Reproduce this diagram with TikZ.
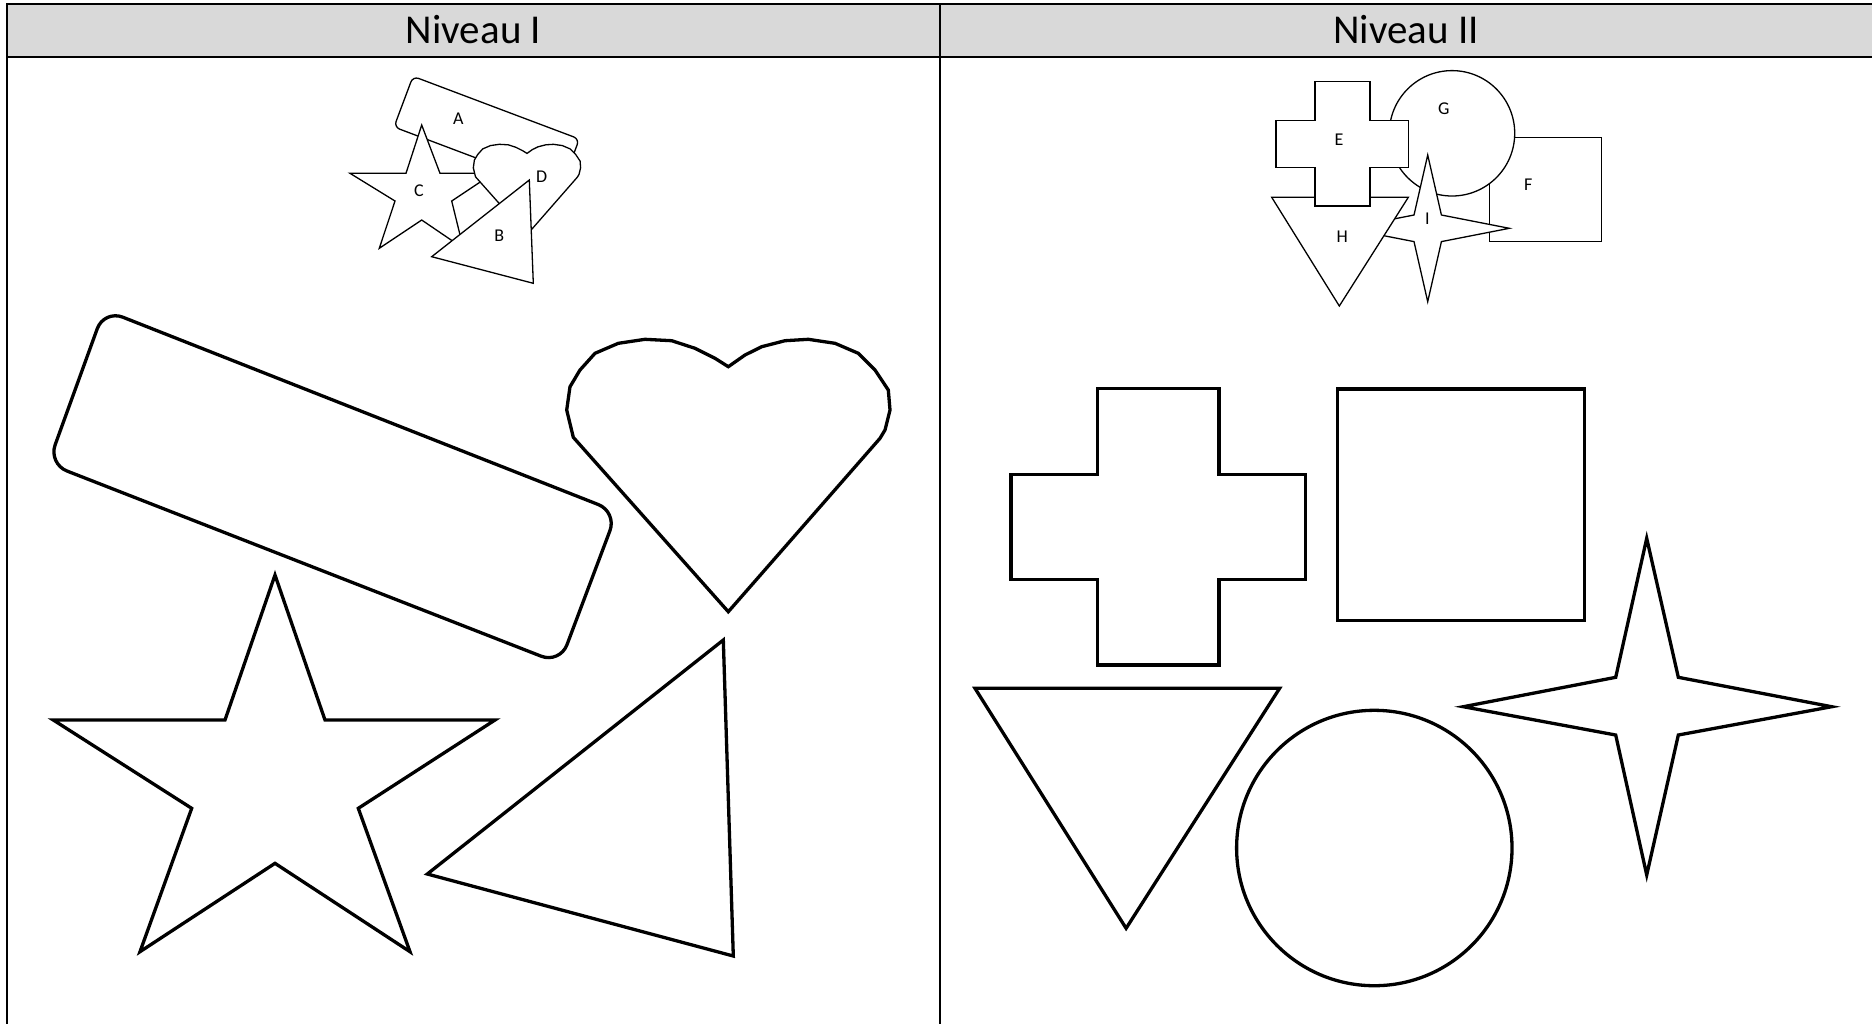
\documentclass[tikz,border=0pt]{standalone}
\usepackage{fontspec}
\setmainfont{Carlito}
\definecolor{headgray}{HTML}{D9D9D9}
\begin{document}
\begin{tikzpicture}[x=0.5pt,y=-0.5pt,
  bigshape/.style={draw=black, line width=1.65pt, line join=miter, fill=white},
  smallshape/.style={draw=black, line width=0.65pt, line join=miter, fill=white},
  lbl/.style={font=\fontsize{9}{10}\selectfont, inner sep=0pt},
  head/.style={font=\fontsize{20.5}{24}\selectfont, inner sep=0pt}]
\useasboundingbox (0,0) rectangle (1872,1024);
\fill[white] (0,0) rectangle (1872,1024);
% table
\fill[headgray] (7,4) rectangle (1872,56.7);
\draw[line width=1.3pt] (6,4) -- (1872,4);
\draw[line width=1pt] (7,56.7) -- (1872,56.7);
\draw[line width=0.8pt] (7,4) -- (7,1024);
\draw[line width=0.8pt] (940,4) -- (940,1024);
\node[head] (h1) at (473.5,30) {Niveau I};
\node[head] (h2) at (1406,30) {Niveau II};

% ---------- Niveau I : small cluster ----------
% A
\draw[smallshape, rounded corners=3pt] (496.2,107.7) -- (579.3,139) -- (560.3,189.7) -- (394,127) -- (413,76.3) -- cycle;
% C
\draw[smallshape] (421.7,125) -- (440,173.3) -- (493.3,173.3) -- (451.7,201) -- (463.3,248.3) -- (421.7,220) -- (379.3,248.3) -- (395,201) -- (350,173.3) -- (406,173.3) -- cycle;
% D
\draw[smallshape] (527.0,234.7) -- (475.5,176.8) -- (473.3,167.8) -- (474.4,160.0) -- (477.7,154.5) -- (482.7,148.9) -- (490.4,145.6) -- (499.3,144.3) -- (508.2,144.8) -- (515.9,147.3) -- (522.5,150.6) -- (527.0,153.4) -- (532.5,149.5) -- (538.0,146.8) -- (545.8,144.8) -- (553.5,144.3) -- (562.4,145.6) -- (570.1,148.9) -- (575.7,154.5) -- (580.1,161.1) -- (580.6,167.8) -- (579.0,174.4) -- (577.3,177.2) -- cycle;
% B
\draw[smallshape] (529.3,180) -- (533.3,283.3) -- (431.7,256.7) -- cycle;
\node[lbl] (la) at (458.3,118.3) {A};
\node[lbl] (lc) at (419,191) {C};
\node[lbl] (ld) at (541.7,176.7) {D};
\node[lbl] (lb) at (499.3,235.7) {B};

% ---------- Niveau I : big shapes ----------
\draw[bigshape, rounded corners=10pt] (360.5,410.9) -- (617,511.9) -- (559.9,663.5) -- (48.3,463.7) -- (104.1,309.8) -- cycle;
\draw[bigshape] (728.3,611.7) -- (573.3,437.3) -- (566.7,410) -- (570,386.7) -- (580,370) -- (595,353.3) -- (618.3,343.3) -- (645,339.3) -- (671.7,340.7) -- (695,348.3) -- (715,358.3) -- (728.3,366.7) -- (745,355) -- (761.7,346.7) -- (785,340.7) -- (808.3,339.3) -- (835,343.3) -- (858.3,353.3) -- (875,370) -- (888.3,390) -- (890,410) -- (885,430) -- (880,438.3) -- cycle;
\draw[bigshape] (275,575) -- (325,720) -- (495,720) -- (358.3,808.3) -- (410,951.7) -- (275,863.3) -- (140,951.7) -- (191.7,808.3) -- (53.3,720) -- (225,720) -- cycle;
\draw[bigshape] (723.3,640) -- (733.3,956) -- (427.3,874) -- cycle;

% ---------- Niveau II : small cluster ----------
% F
\draw[smallshape] (1489.3,137.3) rectangle (1601.7,241.7);
% G
\draw[smallshape] (1452,133.3) circle [radius=31.35pt];
% I
\draw[smallshape] (1427.7,155) -- (1441.4,215) -- (1509.3,228.3) -- (1441.4,241.6) -- (1427.7,301.7) -- (1414,241.6) -- (1346,228.3) -- (1414,215) -- cycle;
% H
\draw[smallshape] (1271.7,197.3) -- (1408.3,197.3) -- (1339.3,306) -- cycle;
% E
\draw[smallshape] (1315,81.7) -- (1370,81.7) -- (1370,120.7) -- (1408.3,120.7) -- (1408.3,167.7) -- (1370,167.7) -- (1370,206) -- (1315,206) -- (1315,167.7) -- (1276,167.7) -- (1276,120.7) -- (1315,120.7) -- cycle;
\node[lbl] (le) at (1339,140) {E};
\node[lbl] (lg) at (1443.7,108.3) {G};
\node[lbl] (lf) at (1528.3,185) {F};
\node[lbl] (lh) at (1342.3,236.7) {H};
\node[lbl] (li) at (1427.3,218.3) {I};

% ---------- Niveau II : big shapes ----------
\draw[bigshape] (1097.7,388.3) -- (1219,388.3) -- (1219,474.3) -- (1305.4,474.3) -- (1305.4,579.3) -- (1219,579.3) -- (1219,665) -- (1097.7,665) -- (1097.7,579.3) -- (1010.9,579.3) -- (1010.9,474.3) -- (1097.7,474.3) -- cycle;
\draw[bigshape] (1337.5,389) rectangle (1584.6,620.7);
\draw[bigshape] (975,688.3) -- (1279.6,688.3) -- (1126.1,928.3) -- cycle;
\draw[bigshape] (1374.3,848) circle [radius=68.85pt];
\draw[bigshape] (1646.7,538.3) -- (1678.3,677.3) -- (1831.7,706.7) -- (1678.3,735) -- (1646.7,875) -- (1615.7,735) -- (1463.3,706.7) -- (1615.7,677.3) -- cycle;
\end{tikzpicture}
\end{document}
